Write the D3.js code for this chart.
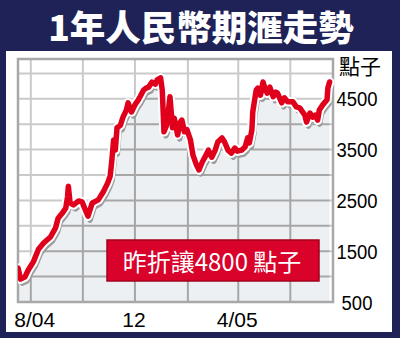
<!DOCTYPE html>
<html>
<head>
<meta charset="utf-8">
<script src="https://cdn.jsdelivr.net/npm/d3@7"></script>
<style>
  html, body { margin: 0; padding: 0; background: #fff; }
  svg { display: block; }
</style>
</head>
<body>
<script>

// 1-year RMB NDF, points
const dates = [
  "2004-07-17","2004-07-20","2004-07-25","2004-07-29","2004-08-04","2004-08-10","2004-08-16","2004-08-24",
  "2004-08-30","2004-09-02","2004-09-07","2004-09-11","2004-09-13","2004-09-14","2004-09-16","2004-09-20",
  "2004-09-26","2004-09-30","2004-10-05","2004-10-07","2004-10-12","2004-10-19","2004-10-25","2004-10-30",
  "2004-11-02","2004-11-04","2004-11-06","2004-11-08","2004-11-10","2004-11-14","2004-11-17","2004-11-21",
  "2004-11-23","2004-11-27","2004-12-01","2004-12-05","2004-12-07","2004-12-11","2004-12-14","2004-12-17",
  "2004-12-21","2004-12-25","2004-12-27","2004-12-31","2005-01-02","2005-01-04","2005-01-07","2005-01-09",
  "2005-01-11","2005-01-14","2005-01-16","2005-01-20","2005-01-23","2005-01-25","2005-01-28","2005-01-31",
  "2005-02-04","2005-02-07","2005-02-11","2005-02-14","2005-02-18","2005-02-21","2005-02-25","2005-03-01",
  "2005-03-05","2005-03-08","2005-03-13","2005-03-16","2005-03-20","2005-03-24","2005-03-28","2005-03-31",
  "2005-04-05","2005-04-09","2005-04-12","2005-04-14","2005-04-17","2005-04-18","2005-04-22","2005-04-24",
  "2005-04-27","2005-04-30","2005-05-03","2005-05-05","2005-05-08","2005-05-12","2005-05-15","2005-05-17",
  "2005-05-22","2005-05-25","2005-05-29","2005-06-04","2005-06-08","2005-06-12","2005-06-18","2005-06-20",
  "2005-06-24","2005-06-27","2005-06-30","2005-07-03","2005-07-05","2005-07-09","2005-07-14","2005-07-15",
  "2005-07-17"
];
const points = [
  1170, 950, 990, 1130, 1290, 1540, 1660, 1780,
  1960, 2150, 2250, 2350, 2570, 2780, 2450, 2410,
  2490, 2470, 2270, 2190, 2450, 2510, 2670, 2840,
  2980, 3300, 3690, 3490, 3930, 3980, 4140, 4280,
  4420, 4240, 4380, 4480, 4540, 4670, 4710, 4730,
  4830, 4790, 4870, 4910, 4670, 3850, 3980, 4240,
  4540, 3930, 4120, 3790, 4040, 4080, 3850, 3890,
  3690, 3390, 3200, 3100, 3260, 3350, 3490, 3350,
  3490, 3650, 3730, 3650, 3490, 3430, 3530, 3470,
  3490, 3550, 3730, 3630, 3890, 4240, 4670, 4710,
  4570, 4830, 4670, 4610, 4730, 4540, 4630, 4610,
  4420, 4520, 4440, 4440, 4340, 4320, 4180, 4040,
  4220, 4140, 4180, 4080, 4280, 4380, 4480, 4710,
  4830
];

const yTicks = [500, 1500, 2500, 3500, 4500];
const yGrid = [1000, 1500, 2000, 2500, 3000, 3500, 4000, 4500, 5000];
const xTicks = ["2004-08-01", "2004-12-01", "2005-04-01"];
const xTickLabels = ["8/04", "12", "4/05"];
const xGrid = ["2004-08-01", "2004-10-01", "2004-12-01", "2005-02-01", "2005-04-01", "2005-06-01"];

const title = "1年人民幣期滙走勢";
const unitLabel = "點子";
const note = "昨折讓4800 點子";

const width = 400, height = 338;
const navy = "#1f2257";
const red = "#e0001c";

const parse = d3.timeParse("%Y-%m-%d");
const data = dates.map((d, i) => ({ date: parse(d), value: points[i] }));

const plot = { left: 18, right: 333, top: 59, bottom: 302 };

const x = d3.scaleTime()
    .domain([parse("2004-07-17"), parse("2005-07-21")])
    .range([plot.left, plot.right]);
const y = d3.scaleLinear()
    .domain([500, 5283])
    .range([plot.bottom, plot.top]);

const svg = d3.select("body").append("svg")
    .attr("width", width)
    .attr("height", height);

// navy frame + title band
svg.append("rect").attr("width", width).attr("height", height).attr("fill", navy);
svg.append("rect").attr("x", 6).attr("y", 51).attr("width", 386).attr("height", 281).attr("fill", "#fff");

svg.append("text")
    .attr("x", 201).attr("y", 41)
    .attr("text-anchor", "middle")
    .attr("fill", "#fff")
    .style("font-family", "'Noto Sans CJK TC', 'Noto Sans CJK SC', sans-serif")
    .style("font-weight", "900")
    .style("font-size", "35.5px")
    .text(title);

const line = d3.line().x(d => x(d.date)).y(d => y(d.value));
const area = d3.area().x(d => x(d.date)).y0(plot.bottom).y1(d => y(d.value));

const defs = svg.append("defs");
defs.append("clipPath").attr("id", "under")
  .append("path").attr("d", area(data));
defs.append("clipPath").attr("id", "plotclip")
  .append("rect")
    .attr("x", plot.left).attr("y", plot.top - 2)
    .attr("width", plot.right - plot.left + 2).attr("height", plot.bottom - plot.top + 4);

const drawGrid = (g, color) => {
  g.selectAll("line.h").data(yGrid).join("line")
      .attr("class", "h")
      .attr("x1", plot.left).attr("x2", plot.right)
      .attr("y1", d => y(d)).attr("y2", d => y(d))
      .attr("stroke", color).attr("stroke-width", 2);
  g.selectAll("line.v").data(xGrid).join("line")
      .attr("class", "v")
      .attr("x1", d => x(parse(d))).attr("x2", d => x(parse(d)))
      .attr("y1", plot.top).attr("y2", plot.bottom)
      .attr("stroke", color).attr("stroke-width", 2);
};

drawGrid(svg.append("g"), "#cacaca");

svg.append("path")
    .attr("d", area(data))
    .attr("fill", "#edf0f3");

drawGrid(svg.append("g").attr("clip-path", "url(#under)"), "#a6a6a6");

// plot frame
svg.append("path")
    .attr("d", `M${plot.left},${plot.bottom}V${plot.top}H${plot.right}V${plot.bottom}Z`)
    .attr("fill", "none")
    .attr("stroke", "#a8a8a8")
    .attr("stroke-width", 2.5);

const lines = svg.append("g").attr("clip-path", "url(#plotclip)");
lines.append("path")
    .attr("d", line(data))
    .attr("transform", "translate(2,4)")
    .attr("fill", "none")
    .attr("stroke", "#9c9c9c")
    .attr("stroke-width", 5.5)
    .attr("stroke-linejoin", "round");
lines.append("path")
    .attr("d", line(data))
    .attr("fill", "none")
    .attr("stroke", "#fff")
    .attr("stroke-width", 9.5)
    .attr("stroke-linejoin", "round")
    .attr("stroke-linecap", "round");
lines.append("path")
    .attr("d", line(data))
    .attr("fill", "none")
    .attr("stroke", red)
    .attr("stroke-width", 5.5)
    .attr("stroke-linejoin", "round")
    .attr("stroke-linecap", "round");

// note box
svg.append("rect")
    .attr("x", 107).attr("y", 240)
    .attr("width", 212).attr("height", 41)
    .attr("fill", "#d8022b")
    .attr("stroke", "#a5001c")
    .attr("stroke-width", 1.5);
svg.append("text")
    .attr("x", 212).attr("y", 271)
    .attr("text-anchor", "middle")
    .attr("fill", "#fff")
    .style("font-family", "'Noto Sans CJK TC', sans-serif")
    .style("font-size", "24px")
    .text(note);

// y labels
const axisFont = "'Liberation Sans', Arial, sans-serif";
svg.selectAll("text.ylab").data(yTicks).join("text")
    .attr("class", "ylab")
    .attr("transform", d => `translate(357,${y(d) + 7.5}) scale(0.88,1)`)
    .attr("text-anchor", "middle")
    .attr("fill", "#000")
    .style("font-family", axisFont)
    .style("font-size", "21px")
    .text(d => d);

svg.append("text")
    .attr("x", 360).attr("y", 74)
    .attr("text-anchor", "middle")
    .attr("fill", "#000")
    .style("font-family", "'Noto Sans CJK TC', sans-serif")
    .style("font-size", "21px")
    .text(unitLabel);

// x labels
svg.selectAll("text.xlab").data(xTicks).join("text")
    .attr("class", "xlab")
    .attr("x", (d, i) => x(parse(d)) + (i === 0 ? 4 : -1))
    .attr("y", 327)
    .attr("text-anchor", "middle")
    .attr("fill", "#000")
    .style("font-family", axisFont)
    .style("font-size", "21px")
    .text((d, i) => xTickLabels[i]);

</script>
</body>
</html>
